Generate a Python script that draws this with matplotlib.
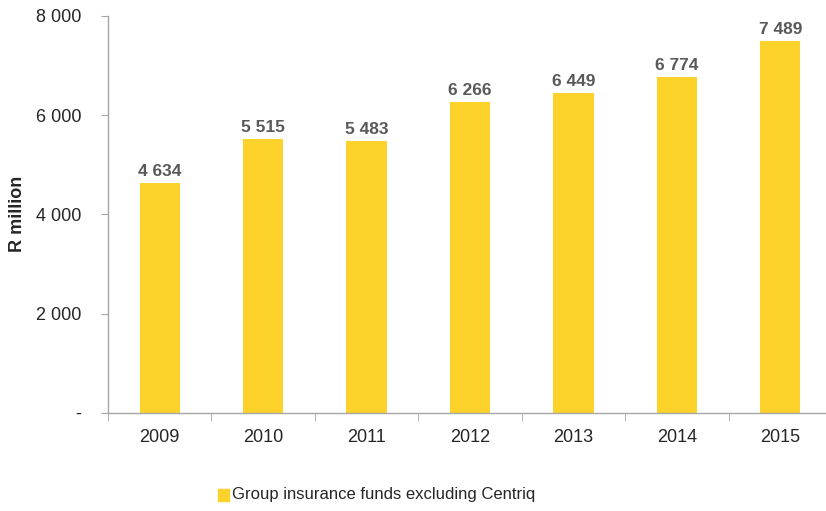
import numpy as np
import matplotlib
matplotlib.use("Agg")
from matplotlib import pyplot as plt
from matplotlib.ticker import FixedLocator, FuncFormatter

years = ["2009", "2010", "2011", "2012", "2013", "2014", "2015"]
funds = [4634, 5515, 5483, 6266, 6449, 6774, 7489]
y_ticks = [0, 2000, 4000, 6000, 8000]
series_name = "Group insurance funds excluding Centriq"

plt.rcParams["font.family"] = ["Liberation Sans Narrow", "Liberation Sans", "DejaVu Sans"]

bar_color = "#FDD22B"
axis_color = "#A6A6A6"


def space_thousands(v, pos=None):
	if v == 0:
		return "-"
	return f"{int(v):,}".replace(",", " ")


fig = plt.figure(figsize=(8.26, 5.11), dpi=100)
ax = fig.add_axes([108 / 826, 1 - 412.7 / 511, (832 - 108) / 826, (412.7 - 16) / 511])

x = np.arange(len(years))
rects = ax.bar(x, funds, width=0.39, color=bar_color, zorder=2)
for r, v in zip(rects, funds):
	ax.text(r.get_x() + r.get_width() / 2, v + 80, space_thousands(v),
		ha="center", va="bottom", fontsize=12.5, fontweight="bold", color="#595959")

ax.set_xlim(-0.5, len(years) - 0.5)
ax.set_ylim(0, 8000)
ax.set_yticks(y_ticks)
ax.yaxis.set_major_formatter(FuncFormatter(space_thousands))
ax.set_xticks(x)
ax.set_xticklabels(years)
ax.xaxis.set_minor_locator(FixedLocator(np.arange(-0.5, len(years), 1)))
ax.tick_params(axis="x", which="major", length=0, pad=12, labelsize=13, labelcolor="#262626")
ax.tick_params(axis="x", which="minor", length=6, color=axis_color, direction="out")
ax.tick_params(axis="y", length=5, color=axis_color, pad=14, labelsize=13, labelcolor="#262626")

for s in ["top", "right"]:
	ax.spines[s].set_visible(False)
for s in ["left", "bottom"]:
	ax.spines[s].set_color(axis_color)
	ax.spines[s].set_linewidth(1.0)
ax.spines["bottom"].set_clip_on(False)

fig.text(18 / 826, 1 - 214 / 511, "R million", rotation=90, ha="center", va="center",
	fontsize=13, fontweight="bold", color="#262626")

fig.patches.append(plt.Rectangle((218 / 826, 1 - 501 / 511), 11 / 826, 12 / 511,
	transform=fig.transFigure, color=bar_color, figure=fig))
fig.text(232 / 826, 1 - 494 / 511, series_name, ha="left", va="center",
	fontsize=12, color="#262626")

fig.savefig("out.png", dpi=100)
plt.close()
